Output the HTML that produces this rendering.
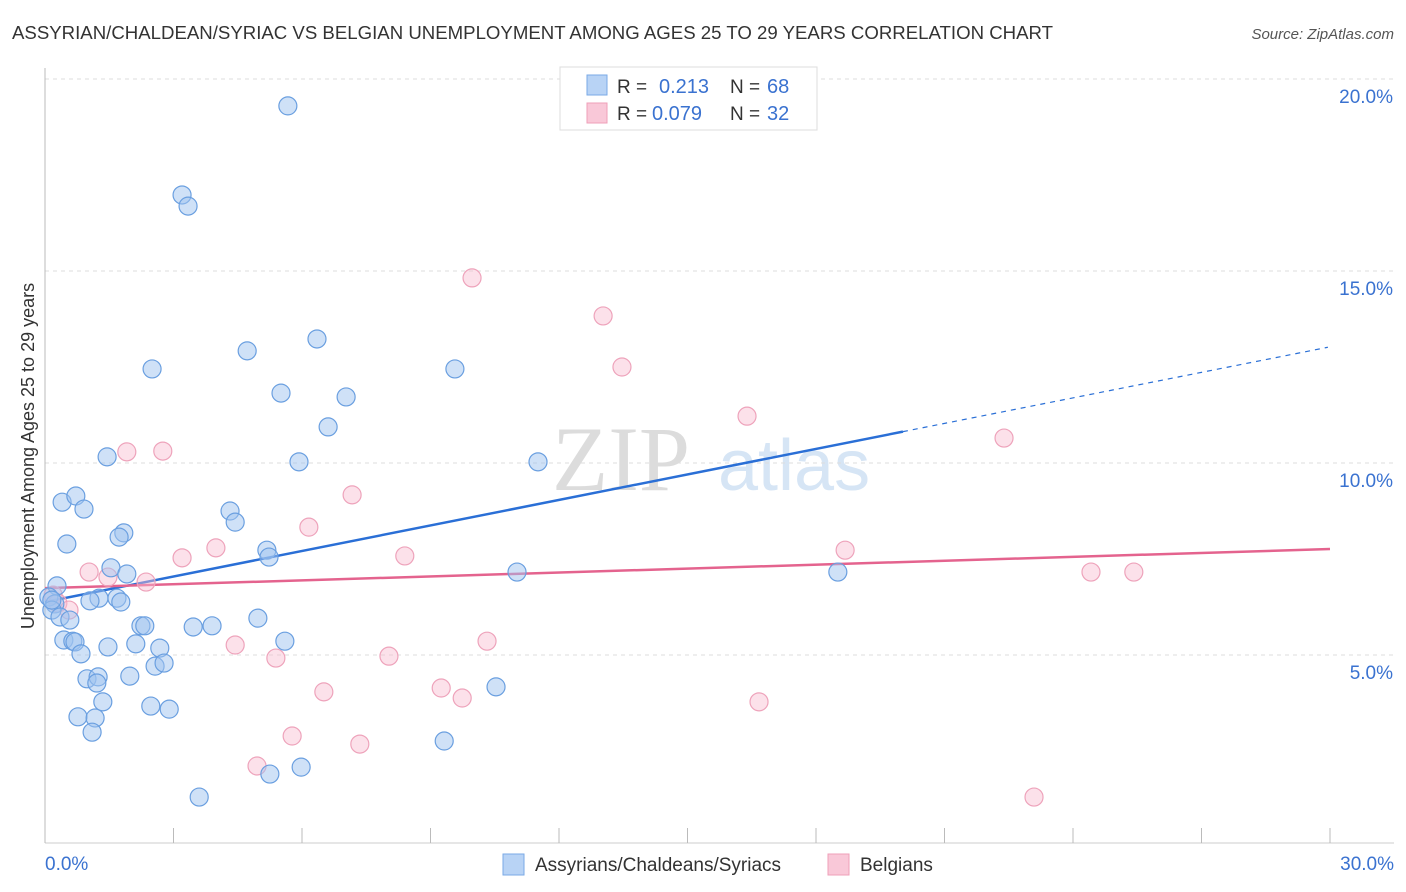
<!DOCTYPE html>
<html><head><meta charset="utf-8"><style>
body{margin:0;background:#fff;font-family:"Liberation Sans",sans-serif;}
svg{display:block}
</style></head><body>
<svg id="chart" width="1406" height="892">
<text x="12" y="39" font-size="18" fill="#333" textLength="1041" lengthAdjust="spacingAndGlyphs">ASSYRIAN/CHALDEAN/SYRIAC VS BELGIAN UNEMPLOYMENT AMONG AGES 25 TO 29 YEARS CORRELATION CHART</text>
<text x="1394" y="39" font-size="15" fill="#555" font-style="italic" text-anchor="end">Source: ZipAtlas.com</text>
<g><text x="552" y="490" font-size="92" fill="#dcdcdc" font-family="Liberation Serif,serif">ZIP</text><text x="718" y="490" font-size="72" fill="#d6e5f5">atlas</text></g>
<g id="grid"></g>
<g id="axes"></g>
<g id="lines"></g>
<g id="points"></g>
<text transform="translate(34,456) rotate(-90)" font-size="18" fill="#333" text-anchor="middle">Unemployment Among Ages 25 to 29 years</text>
<g>
<rect x="560" y="67" width="257" height="63" fill="#fff" stroke="#ddd"/>
<rect x="587" y="75" width="20" height="20" fill="#b8d3f5" stroke="#7aaae6"/>
<rect x="587" y="103" width="20" height="20" fill="#f9c8d8" stroke="#ef9fb8"/>
<text x="617" y="93" font-size="19" fill="#333">R = </text><text x="659" y="93" font-size="20" fill="#3a72d0">0.213</text>
<text x="730" y="93" font-size="19" fill="#333">N = </text><text x="767" y="93" font-size="20" fill="#3a72d0">68</text>
<text x="617" y="120" font-size="19" fill="#333">R = </text><text x="652" y="120" font-size="20" fill="#3a72d0">0.079</text>
<text x="730" y="120" font-size="19" fill="#333">N = </text><text x="767" y="120" font-size="20" fill="#3a72d0">32</text>
</g>
<g>
<rect x="503" y="854" width="21" height="21" fill="#b8d3f5" stroke="#7aaae6"/>
<text x="535" y="871" font-size="19" fill="#333">Assyrians/Chaldeans/Syriacs</text>
<rect x="828" y="854" width="21" height="21" fill="#f9c8d8" stroke="#ef9fb8"/>
<text x="860" y="871" font-size="19" fill="#333">Belgians</text>
</g>
</svg>
<script>
const blueX=[5.67,3.20,3.34,4.72,6.35,2.50,5.51,7.03,9.57,6.61,1.45,5.93,11.51,0.40,0.72,0.91,4.32,4.44,1.84,1.73,0.51,5.18,5.23,1.54,1.91,11.02,18.51,0.28,0.09,0.23,0.16,1.26,1.68,1.77,1.05,0.35,0.58,2.24,2.33,3.46,3.90,4.97,0.44,0.65,0.70,5.60,2.12,1.47,2.68,0.84,2.57,2.78,0.98,1.24,1.98,1.21,1.35,2.47,2.90,0.77,1.17,1.10,9.32,10.53,5.98,5.25,3.60,0.16];
const blueY=[19.30,16.98,16.69,12.92,13.23,12.45,11.82,11.72,12.45,10.94,10.16,10.03,10.03,8.98,9.14,8.80,8.75,8.46,8.18,8.07,7.89,7.73,7.55,7.27,7.11,7.16,7.16,6.80,6.51,6.33,6.17,6.48,6.48,6.38,6.41,5.99,5.91,5.76,5.76,5.73,5.76,5.96,5.39,5.36,5.34,5.36,5.29,5.21,5.18,5.03,4.71,4.79,4.38,4.43,4.45,4.27,3.78,3.67,3.59,3.39,3.36,2.99,2.76,4.17,2.08,1.90,1.30,6.43];
const pinkX=[9.97,13.03,13.47,16.39,22.39,1.91,2.75,7.17,6.16,3.99,3.20,8.40,18.68,1.03,1.47,2.36,24.42,25.42,0.19,0.30,0.56,10.32,4.44,5.39,8.03,6.51,9.25,9.74,16.67,5.77,7.35,4.95,23.09];
const pinkY=[14.82,13.83,12.50,11.22,10.65,10.29,10.31,9.17,8.33,7.79,7.53,7.58,7.73,7.16,7.03,6.90,7.16,7.16,6.56,6.35,6.17,5.36,5.26,4.92,4.97,4.04,4.14,3.88,3.78,2.89,2.68,2.11,1.30];
const blueTrend=[6.38,0.2215];
const pinkTrend=[6.74,0.034];
const yTicks=[5,10,15,20];
const yTickLabels=["5.0%","10.0%","15.0%","20.0%"];
const xTickLabels=["0.0%","30.0%"];
const NS="http://www.w3.org/2000/svg";
const X=v=>45+v*(1285/30), Y=v=>847-v*38.4;
function mk(t,a,p){const e=document.createElementNS(NS,t);for(const k in a)e.setAttribute(k,a[k]);p.appendChild(e);return e;}
const grid=document.getElementById('grid'),axes=document.getElementById('axes');
yTicks.forEach((t,i)=>{
 const l=mk('line',{x1:45,x2:1394,y1:Y(t),y2:Y(t),stroke:'#ddd','stroke-dasharray':'4 4'},grid);
 
 
 const tx=mk('text',{x:1393,y:Y(t)+24,'font-size':19,fill:'#3a72d0','text-anchor':'end'},axes);
 tx.textContent=yTickLabels[i];
 
 
});
mk('line',{x1:45,x2:45,y1:68,y2:843,stroke:'#bbb'},axes);
mk('line',{x1:45,x2:1394,y1:843,y2:843,stroke:'#ccc'},axes);
for(let i=0;i<=10;i++){const t=mk('line',{x1:X(i*3),x2:X(i*3),y1:828,y2:843,stroke:'#bbb'},axes);
 
 }
const xl0=mk('text',{x:45,y:870,'font-size':19,fill:'#3a72d0'},axes);xl0.textContent=xTickLabels[0];


const xl1=mk('text',{x:1394,y:870,'font-size':19,fill:'#3a72d0','text-anchor':'end'},axes);xl1.textContent=xTickLabels[1];


const pts=document.getElementById('points');
function dots(xs,ys,fill,stroke,name){xs.forEach((x,i)=>{const c=mk('circle',{cx:X(x),cy:Y(ys[i]),r:9,fill:fill,stroke:stroke,'stroke-width':1.2},pts);
 
 });}
dots(pinkX,pinkY,'rgba(248,188,208,0.45)','#eea3bb','point-belgian');
dots(blueX,blueY,'rgba(160,196,240,0.5)','#6a9fe0','point-assyrian');
const lg=document.getElementById('lines');
const bEnd=20.03;
const b1=mk('line',{x1:X(0),y1:Y(blueTrend[0]),x2:X(bEnd),y2:Y(blueTrend[0]+blueTrend[1]*bEnd),stroke:'#2a6fd6','stroke-width':2.5},lg);


const b2=mk('line',{x1:X(bEnd),y1:Y(blueTrend[0]+blueTrend[1]*bEnd),x2:X(29.95),y2:Y(blueTrend[0]+blueTrend[1]*29.95),stroke:'#2a6fd6','stroke-width':1.2,'stroke-dasharray':'5 5'},lg);


const p1=mk('line',{x1:X(0),y1:Y(pinkTrend[0]),x2:X(30),y2:Y(pinkTrend[0]+pinkTrend[1]*30),stroke:'#e4638e','stroke-width':2.5},lg);


</script>
</body></html>
